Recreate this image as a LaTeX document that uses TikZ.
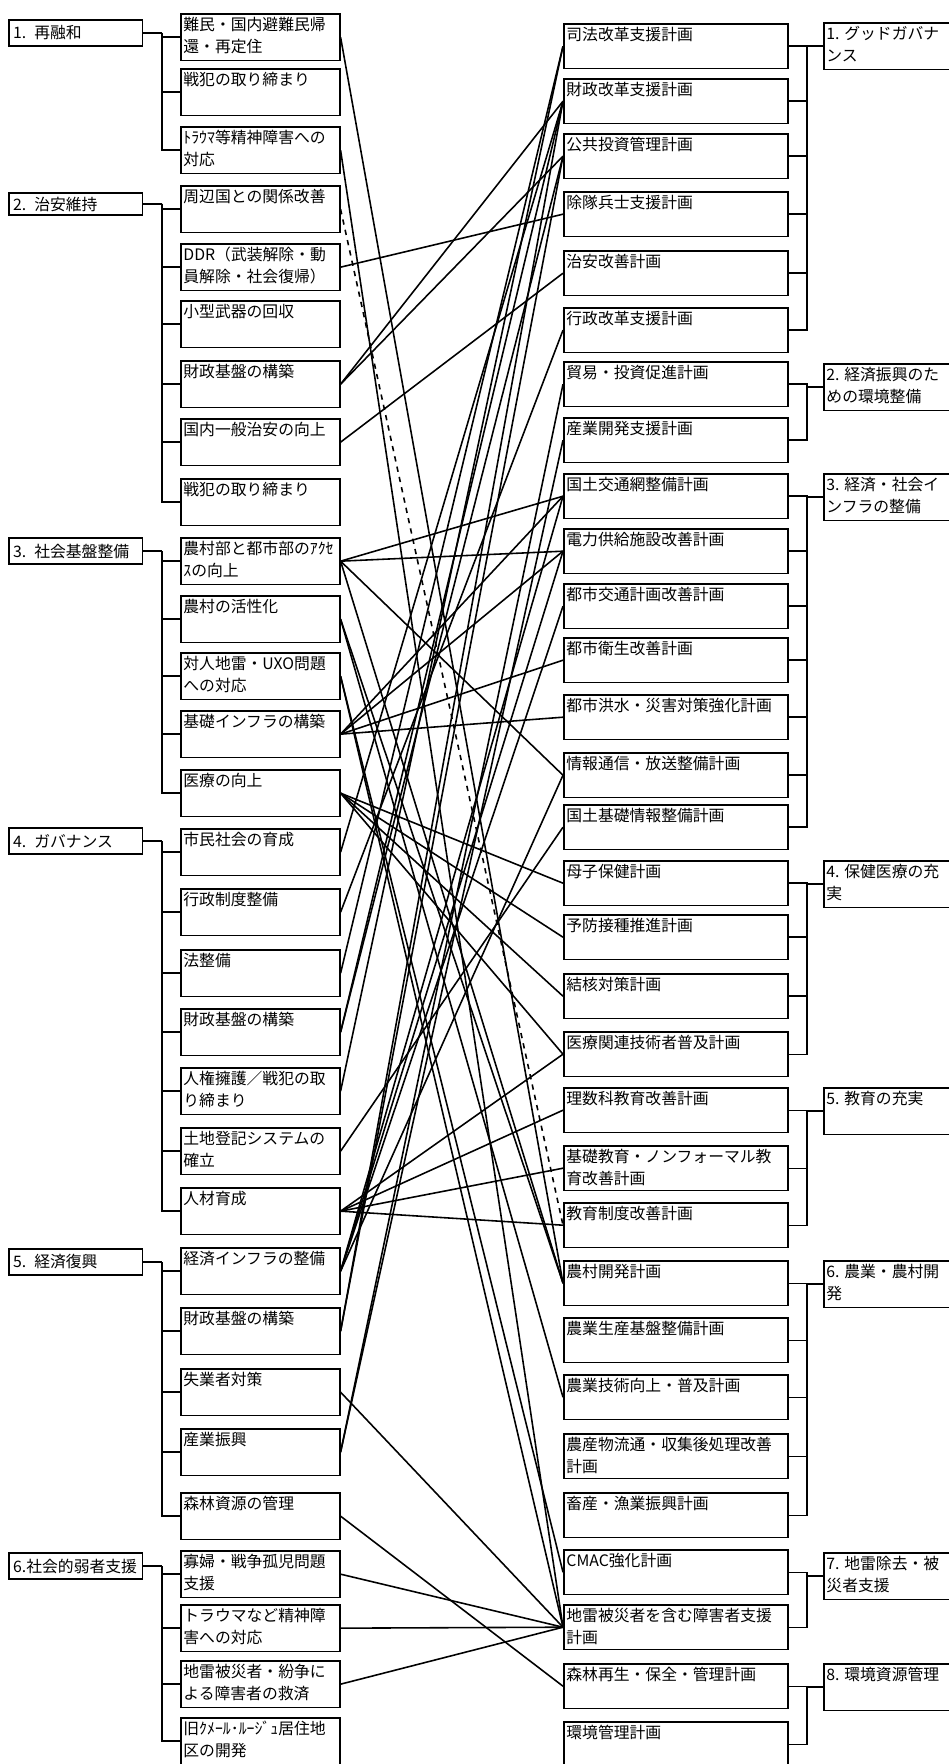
\documentclass[tikz,border=0pt]{standalone}
\usepackage{fontspec}
\setmainfont{Noto Sans CJK JP}

\begin{document}
\begin{tikzpicture}[x=0.02cm,y=-0.02cm,
  link/.style={line width=0.9pt},
  tie/.style={line width=0.8pt},
  goalbox/.style={draw,line width=0.9pt,anchor=west,inner sep=2pt,
    minimum width=76pt,minimum height=14.7pt,text width=71pt,align=left,
    font=\fontsize{9}{12}\selectfont},
  midbox/.style={draw,line width=0.9pt,anchor=north west,inner xsep=1.5pt,inner ysep=2pt,
    execute at begin node={\begin{minipage}[t][22.6pt][t]{87.5pt}\fontsize{9}{12.5}\selectfont},
    execute at end node={\end{minipage}}},
  planbox/.style={draw,line width=0.9pt,anchor=north west,inner xsep=1.5pt,inner ysep=2pt,
    execute at begin node={\begin{minipage}[t][21.5pt][t]{124.5pt}\fontsize{9}{12.5}\selectfont},
    execute at end node={\end{minipage}}},
  aimbox/.style={draw,line width=0.9pt,anchor=north west,inner xsep=1.5pt,inner ysep=2pt,
    execute at begin node={\begin{minipage}[t][22.6pt][t]{80pt}\fontsize{9}{12.5}\selectfont},
    execute at end node={\end{minipage}}}]
  \useasboundingbox (0,0) rectangle (949,1764);
  \coordinate (ltrunk) at (162,0);
  \coordinate (rtrunk) at (807,0);

  % left: aims of the peace process
  \node[goalbox] (g1) at (8,33) {1. 再融和};
  \node[goalbox,minimum height=11pt] (g2) at (8,204) {2. 治安維持};
  \node[goalbox] (g3) at (8,551) {3. 社会基盤整備};
  \node[goalbox] (g4) at (8,841) {4. ガバナンス};
  \node[goalbox] (g5) at (8,1262) {5. 経済復興};
  \node[goalbox] (g6) at (8,1566) {6.社会的弱者支援};

  \foreach \n/\y/\t in {1/13/{難民・国内避難民帰\\還・再定住},2/68/{戦犯の取り締まり},
    3/126/{ﾄﾗｳﾏ等精神障害への\\対応},4/185/{周辺国との関係改善},
    5/243/{DDR（武装解除・動\\員解除・社会復帰）},6/300/{小型武器の回収},
    7/360/{財政基盤の構築},8/418/{国内一般治安の向上},9/478/{戦犯の取り締まり},
    10/537/{農村部と都市部のｱｸｾ\\ｽの向上},11/595/{農村の活性化},
    12/652/{対人地雷・UXO問題\\への対応},13/710/{基礎インフラの構築},
    14/769/{医療の向上},15/828/{市民社会の育成},16/888/{行政制度整備},
    17/949/{法整備},18/1008/{財政基盤の構築},19/1067/{人権擁護／戦犯の取\\り締まり},
    20/1127/{土地登記システムの\\確立},21/1187/{人材育成},22/1247/{経済インフラの整備},
    23/1307/{財政基盤の構築},24/1368/{失業者対策},25/1428/{産業振興},
    26/1492/{森林資源の管理},27/1550/{寡婦・戦争孤児問題\\支援},
    28/1604/{トラウマなど精神障\\害への対応},29/1660/{地雷被災者・紛争に\\よる障害者の救済},
    30/1717/{旧ｸﾒｰﾙ･ﾙｰｼﾞｭ居住地\\区の開発}}
    \node[midbox] (b\n) at (180,\y) {\t};

  \foreach \g/\first/\last in {1/1/3,2/4/9,3/10/14,4/15/21,5/22/26,6/27/30}{
    \draw[tie] (g\g.east) -- (g\g.east -| ltrunk);
    \foreach \k in {\first,...,\last}
      \draw[tie] (g\g.east -| ltrunk) |- (b\k.west);
  }

  % right: cooperation programmes
  \foreach \n/\y/\t in {1/23/{司法改革支援計画},2/78/{財政改革支援計画},3/133/{公共投資管理計画},
    4/191/{除隊兵士支援計画},5/250/{治安改善計画},6/307/{行政改革支援計画},
    7/361/{貿易・投資促進計画},8/417/{産業開発支援計画},9/473/{国土交通網整備計画},
    10/528/{電力供給施設改善計画},11/583/{都市交通計画改善計画},12/637/{都市衛生改善計画},
    13/694/{都市洪水・災害対策強化計画},14/752/{情報通信・放送整備計画},
    15/804/{国土基礎情報整備計画},16/860/{母子保健計画},17/914/{予防接種推進計画},
    18/973/{結核対策計画},19/1031/{医療関連技術者普及計画},20/1087/{理数科教育改善計画},
    21/1145/{基礎教育・ノンフォーマル教\\育改善計画},22/1202/{教育制度改善計画},
    23/1260/{農村開発計画},24/1317/{農業生産基盤整備計画},25/1374/{農業技術向上・普及計画},
    26/1433/{農産物流通・収集後処理改善\\計画},27/1492/{畜産・漁業振興計画},
    28/1549/{CMAC強化計画},29/1604/{地雷被災者を含む障害者支援\\計画},
    30/1663/{森林再生・保全・管理計画},31/1721/{環境管理計画}}
    \node[planbox] (c\n) at (563,\y) {\t};

  \foreach \n/\y/\t in {1/22/{1. グッドガバナ\\ンス},2/363/{2. 経済振興のた\\めの環境整備},
    3/473/{3. 経済・社会イ\\ンフラの整備},4/860/{4. 保健医療の充\\実},
    5/1087/{5. 教育の充実},6/1260/{6. 農業・農村開\\発},
    7/1552/{7. 地雷除去・被\\災者支援},8/1663/{8. 環境資源管理}}
    \node[aimbox] (a\n) at (823,\y) {\t};

  \foreach \g/\first/\last in {1/1/6,2/7/8,3/9/15,4/16/19,5/20/22,6/23/27,7/28/29,8/30/31}{
    \draw[tie] (a\g.west) -- (a\g.west -| rtrunk);
    \foreach \k in {\first,...,\last}
      \draw[tie] (a\g.west -| rtrunk) |- (c\k.east);
  }

  % cross links
  \foreach \p/\q in {1/23,3/29,5/4,7/2,7/3,8/5,10/9,10/10,10/14,10/23,11/23,11/25,12/28,12/29,
    13/9,13/10,13/12,13/13,14/16,14/17,14/18,14/19,15/2,16/6,17/1,18/2,18/3,19/1,
    20/15,21/19,21/20,21/21,21/22,22/9,22/10,22/11,22/14,23/2,23/3,24/29,25/7,25/8,
    26/30,27/29,28/29,29/29}
    \draw[link] (b\p.east) -- (c\q.west);
  \draw[link,dashed] (b4.east) -- (c22.west);
\end{tikzpicture}
\end{document}
